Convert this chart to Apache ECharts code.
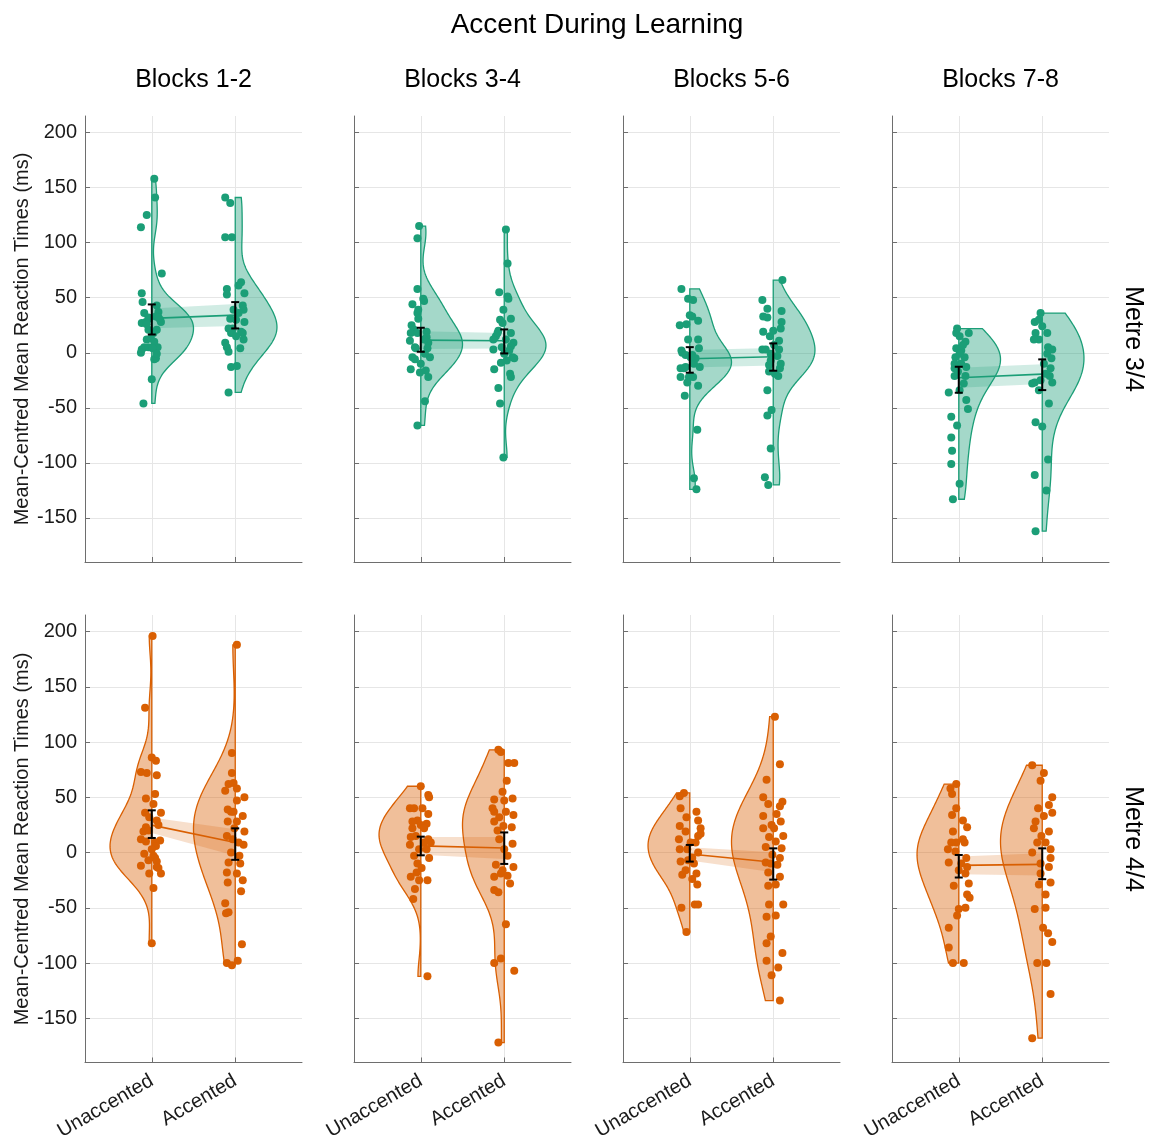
<!DOCTYPE html>
<html><head><meta charset="utf-8">
<script src="https://cdn.jsdelivr.net/npm/echarts@6/dist/echarts.min.js"></script>
<style>html,body{margin:0;padding:0;background:#fff}#c{width:1149px;height:1143px}</style>
</head><body><div id="c"></div>
<script>
// ---------------- DATA ----------------
const chartTitle = 'Accent During Learning';
const blocks = ['Blocks 1-2', 'Blocks 3-4', 'Blocks 5-6', 'Blocks 7-8'];
const conditions = ['Unaccented', 'Accented'];
const metres = ['Metre 3/4', 'Metre 4/4'];
const yLabel = 'Mean-Centred Mean Reaction Times (ms)';
const yTicks = [-150, -100, -50, 0, 50, 100, 150, 200];

// individual points: [jitter (category units), value in ms]
const m34b12U = [[0.03,158],[0.04,141],[-0.06,125],[-0.13,114],[0.12,72],[-0.12,54],[-0.11,46],[0.06,43],[-0.09,36],[-0.04,32],[0.08,37],[0.10,30],[0.11,28],[-0.12,27],[-0.07,28],[-0.03,31],[0.05,33],[0.08,32],[-0.04,21],[0.06,21],[-0.06,12],[-0.01,13],[-0.12,3],[-0.09,5],[-0.04,5],[0.07,5],[-0.13,0],[0.05,-5],[0.03,-6],[0.00,-24],[-0.10,-46],[-0.06,26],[0.02,18],[0.03,10],[0.01,4],[0.06,-1]];
const m34b12A = [[-0.12,141],[-0.06,136],[-0.12,105],[-0.04,105],[-0.10,58],[-0.10,53],[0.07,64],[0.04,61],[0.11,54],[0.09,43],[0.10,39],[-0.02,39],[-0.06,31],[0.01,30],[0.11,28],[-0.08,22],[-0.03,22],[0.07,19],[0.09,18],[-0.05,18],[0.01,15],[0.10,12],[-0.12,9],[-0.10,5],[-0.08,1],[0.06,4],[-0.05,-13],[0.02,-12],[-0.08,-36],[0.04,36]];
const m34b34U = [[-0.02,115],[-0.04,104],[-0.04,58],[0.03,49],[0.04,47],[-0.10,44],[-0.03,39],[-0.04,36],[-0.03,31],[-0.11,25],[-0.08,21],[0.07,19],[0.07,14],[-0.13,11],[0.09,9],[0.08,4],[-0.07,5],[-0.10,-4],[0.11,-4],[-0.07,-6],[-0.12,-15],[-0.01,-18],[0.06,-16],[0.09,-22],[0.05,-44],[-0.04,-66],[-0.12,18],[-0.04,18],[0.04,12],[-0.06,4],[0.00,-10],[0.05,-1]];
const m34b34A = [[0.02,112],[0.04,81],[-0.06,55],[0.04,51],[0.05,49],[-0.01,39],[-0.05,30],[0.08,31],[-0.02,27],[-0.07,20],[0.08,18],[-0.10,15],[-0.13,12],[0.11,9],[0.08,6],[-0.03,5],[-0.13,3],[0.10,-4],[0.12,-5],[0.03,-7],[-0.04,-9],[-0.12,-15],[0.07,-19],[0.08,-22],[-0.07,-32],[-0.05,-46],[-0.01,-95],[-0.08,18],[0.02,12],[0.00,-1],[0.06,2]];
const m34b56U = [[-0.10,58],[-0.02,49],[0.04,48],[0.00,34],[0.03,33],[0.10,29],[-0.12,25],[-0.04,26],[-0.02,12],[0.10,12],[-0.10,2],[-0.09,0],[-0.05,-2],[0.11,4],[0.03,-2],[0.07,-5],[-0.11,-14],[-0.07,-14],[0.05,-10],[0.12,-13],[-0.11,-22],[-0.01,-22],[0.04,-22],[-0.03,-27],[0.10,-30],[-0.06,-39],[0.09,-70],[0.05,-114],[0.08,-124],[0.01,-4],[-0.05,-13]];
const m34b56A = [[0.11,66],[-0.13,48],[-0.07,40],[-0.12,33],[-0.07,32],[0.10,38],[0.10,28],[0.09,22],[-0.12,19],[-0.04,15],[0.00,20],[0.07,11],[-0.13,3],[-0.09,3],[0.05,-3],[-0.03,-1],[0.07,3],[-0.05,-11],[0.08,-14],[-0.05,-17],[0.02,-19],[0.06,-21],[-0.07,-34],[-0.02,-52],[-0.07,-57],[-0.03,-87],[-0.10,-113],[-0.06,-120],[0.01,7],[-0.03,-7],[0.09,-10]];
const m34b78U = [[-0.02,22],[0.12,18],[0.01,15],[0.08,10],[-0.03,4],[0.07,-4],[-0.04,-4],[0.03,2],[-0.05,-14],[0.09,-13],[0.08,-21],[-0.05,-21],[-0.12,-36],[0.09,-43],[0.11,-51],[-0.09,-58],[-0.02,-66],[-0.09,-77],[-0.08,-89],[-0.09,-101],[0.01,-119],[-0.07,-133],[0.01,-1],[0.05,7],[-0.05,-10],[0.06,-28],[0.01,-34],[-0.01,-17],[-0.03,18],[0.03,-10]];
const m34b78A = [[-0.02,36],[-0.09,28],[0.06,18],[-0.08,18],[-0.04,12],[0.07,5],[0.12,3],[0.11,-5],[0.10,-14],[0.09,-21],[0.12,-27],[-0.12,-28],[-0.09,-27],[-0.04,-34],[0.08,-46],[-0.08,-63],[0.00,-67],[0.07,-97],[-0.09,-111],[0.05,-125],[-0.08,-162],[-0.10,12],[0.00,24],[0.06,-1],[0.02,-10],[0.04,-19],[-0.02,-25],[-0.04,30]];
const m44b12U = [[0.01,196],[-0.08,131],[0.00,86],[0.05,83],[-0.13,73],[-0.06,72],[0.06,70],[-0.07,49],[0.04,53],[0.02,44],[-0.08,36],[0.11,36],[0.06,29],[0.08,25],[-0.07,23],[-0.10,19],[-0.04,20],[-0.13,12],[-0.07,10],[0.10,11],[0.04,9],[-0.09,-1],[0.02,-3],[0.04,-5],[-0.04,-7],[-0.13,-12],[0.06,-8],[0.08,-14],[-0.03,-19],[0.11,-19],[0.02,-32],[0.00,-82],[-0.03,32],[0.05,6],[0.00,3],[0.06,-13]];
const m44b12A = [[0.02,188],[-0.04,90],[-0.04,72],[-0.08,62],[-0.02,63],[0.02,58],[-0.12,56],[0.11,50],[0.02,47],[-0.09,39],[-0.05,37],[-0.02,37],[0.09,33],[-0.09,28],[0.02,28],[0.11,19],[-0.10,15],[-0.03,12],[0.10,7],[-0.05,0],[0.05,-3],[-0.08,-9],[0.06,-10],[-0.10,-18],[0.02,-19],[0.09,-25],[-0.09,-27],[0.07,-35],[-0.12,-46],[-0.08,-54],[-0.11,-55],[0.08,-83],[-0.10,-100],[-0.04,-102],[0.03,-98],[-0.01,22],[0.04,9]];
const m44b34U = [[0.00,60],[0.09,52],[0.10,50],[-0.13,40],[-0.08,40],[0.09,35],[-0.04,29],[0.07,26],[-0.10,22],[-0.12,14],[0.09,12],[0.04,9],[-0.13,7],[0.07,3],[-0.08,-3],[-0.04,-10],[0.10,-5],[0.01,-14],[-0.12,-22],[-0.02,-25],[0.08,-25],[-0.07,-33],[-0.09,-42],[0.08,-112],[0.00,25],[-0.06,15],[0.04,22],[-0.02,3],[0.12,9],[-0.05,-18],[-0.10,28],[0.02,40]];
const m44b34A = [[-0.07,93],[-0.04,91],[0.05,81],[0.12,81],[0.03,65],[-0.02,55],[0.10,49],[0.00,47],[-0.12,48],[-0.12,37],[0.02,37],[-0.06,32],[0.11,34],[-0.01,24],[0.09,23],[-0.08,20],[-0.12,28],[0.10,8],[0.00,3],[-0.10,-11],[0.11,-13],[-0.04,-19],[0.04,-21],[-0.12,-22],[0.07,-28],[-0.12,-34],[-0.07,-36],[0.02,-65],[-0.12,-100],[-0.04,-96],[0.12,-107],[-0.07,-172],[-0.06,12],[0.04,-3],[-0.02,-16],[-0.14,40]];
const m44b56U = [[-0.07,54],[-0.12,51],[-0.11,40],[0.08,37],[-0.04,32],[0.10,29],[-0.12,24],[0.13,22],[-0.05,19],[0.07,9],[-0.12,3],[-0.03,3],[0.10,0],[-0.11,-8],[0.05,-10],[-0.09,-20],[0.03,-24],[0.09,-29],[-0.10,-50],[0.06,-47],[0.10,-47],[-0.04,-72],[0.10,15],[0.03,-5],[-0.05,-16],[0.01,9],[0.13,17],[-0.13,12],[-0.02,-7],[0.08,-19]];
const m44b56A = [[0.02,123],[0.08,80],[-0.08,66],[-0.12,50],[-0.06,44],[0.11,46],[0.08,42],[-0.12,33],[0.04,35],[-0.02,25],[0.09,28],[-0.12,22],[-0.05,14],[0.12,15],[0.03,10],[-0.09,5],[0.10,4],[-0.01,-2],[0.08,-5],[-0.09,-9],[0.05,-11],[-0.06,-18],[0.08,-22],[-0.06,-30],[0.03,-29],[-0.05,-47],[0.12,-47],[-0.08,-58],[0.03,-57],[-0.03,-76],[-0.08,-82],[0.11,-91],[-0.08,-98],[0.06,-104],[-0.02,-111],[0.08,-134],[0.01,22],[-0.03,-10]];
const m44b78U = [[-0.03,62],[-0.10,58],[-0.08,53],[-0.03,40],[-0.08,34],[0.05,29],[0.10,23],[-0.07,19],[0.05,12],[-0.13,3],[-0.04,1],[0.09,-5],[-0.12,-9],[0.10,-13],[0.00,-16],[0.12,-28],[-0.06,-30],[0.10,-38],[0.13,-41],[0.00,-51],[0.08,-50],[-0.02,-57],[-0.12,-68],[-0.12,-86],[-0.07,-100],[0.06,-100],[-0.03,9],[0.03,-10],[0.07,9],[-0.09,9],[0.08,-19]];
const m44b78A = [[-0.12,79],[0.02,72],[-0.02,65],[0.12,50],[0.08,43],[-0.05,40],[0.12,36],[0.02,33],[-0.10,22],[0.08,19],[-0.01,15],[0.10,3],[-0.12,0],[-0.02,-10],[0.08,-13],[-0.04,-29],[0.10,-27],[0.04,-38],[-0.09,-51],[0.04,-50],[0.01,-68],[0.07,-73],[0.12,-81],[-0.06,-100],[0.05,-100],[0.10,-128],[-0.12,-168],[-0.08,28],[0.04,9],[-0.02,-19],[0.10,-5],[-0.06,9]];

// group means, 95% CI bounds (error bars), half-width of the connecting ribbon; [Unaccented, Accented] per block
const m34Mean = [[31.2,34.2],[11.5,10.9],[-5.4,-3.6],[-22.7,-19.4]];
const m34CiLo = [[16.6,22.1],[0.9,-0.6],[-18.1,-16.3],[-36.3,-33.9]];
const m34CiHi = [[43.9,46.0],[22.7,21.2],[5.1,8.5],[-12.7,-6.0]];
const m34Band = [[9,10],[8,7],[8,8],[9,9]];
const m44Mean = [[24.8,9.1],[6.0,4.1],[-1.3,-8.8],[-11.6,-10.7]];
const m44CiLo = [[13.2,-6.6],[-2.5,-10.3],[-8.2,-24.5],[-22.6,-24.1]];
const m44CiHi = [[38.2,21.9],[14.4,18.2],[6.9,3.8],[-2.2,3.8]];
const m44Band = [[7,12],[8,10],[6,9],[8,10]];

// ---------------- BUILD ----------------
const panels = [
  [[m34b12U, m34b12A], [m34b34U, m34b34A], [m34b56U, m34b56A], [m34b78U, m34b78A]],
  [[m44b12U, m44b12A], [m44b34U, m44b34A], [m44b56U, m44b56A], [m44b78U, m44b78A]]
];
const means = [m34Mean, m44Mean], ciLo = [m34CiLo, m44CiLo], ciHi = [m34CiHi, m44CiHi], bands = [m34Band, m44Band];

const FONT = '"Liberation Sans", Helvetica, Arial, sans-serif';
const colors = ['#1b9e77', '#d95f02'];
const fills = ['rgba(27,158,119,0.4)', 'rgba(217,95,2,0.4)'];
const bandFills = ['rgba(27,158,119,0.2)', 'rgba(217,95,2,0.2)'];
const axisCol = '#6e6e6e', gridCol = '#e6e6e6', textCol = '#1a1a1a';
const gridLeft = [85, 354, 623, 892], gridW = 217;
const gridTop = [116, 615], gridH = [446, 448];

function median(a) { const s = a.slice().sort((x, y) => x - y); const n = s.length; return n % 2 ? s[(n - 1) / 2] : (s[n / 2 - 1] + s[n / 2]) / 2; }
// half violin outline from a Gaussian kernel density estimate of the values
function halfViolin(vals, xc, side) {
  const n = vals.length, med = median(vals);
  let sig = median(vals.map(v => Math.abs(v - med))) / 0.6745;
  if (!(sig > 0)) { const m = vals.reduce((a, b) => a + b, 0) / n; sig = Math.sqrt(vals.reduce((a, b) => a + (b - m) ** 2, 0) / (n - 1)); }
  const h = sig * Math.pow(4 / (3 * n), 0.2);
  const lo = Math.min(...vals), hi = Math.max(...vals);
  const steps = 150, ys = [], ds = [];
  for (let i = 0; i <= steps; i++) {
    const y = lo + (hi - lo) * i / steps; let d = 0;
    for (const v of vals) { const u = (y - v) / h; d += Math.exp(-0.5 * u * u); }
    ys.push(y); ds.push(d);
  }
  const dmax = Math.max(...ds);
  const pts = [[xc, lo]];
  for (let i = 0; i <= steps; i++) pts.push([xc + side * 0.5 * ds[i] / dmax, ys[i]]);
  pts.push([xc, hi]);
  return pts;
}

const grids = [], xAxes = [], yAxes = [], series = [];
for (let r = 0; r < 2; r++) {
  for (let c = 0; c < 4; c++) {
    const gi = r * 4 + c;
    grids.push({ left: gridLeft[c], top: gridTop[r], width: gridW, height: gridH[r] });
    xAxes.push({
      gridIndex: gi, type: 'value', min: 0.2, max: 2.8,
      axisLine: { show: true, onZero: false, lineStyle: { color: axisCol, width: 1 } },
      axisTick: { show: true, inside: true, length: 5, customValues: [1, 2], lineStyle: { color: axisCol } },
      axisLabel: { show: r === 1, customValues: [1, 2], formatter: v => conditions[Math.round(v) - 1], rotate: 30, fontSize: 20, fontFamily: FONT, color: textCol, margin: 17 },
      splitLine: { show: true, lineStyle: { color: gridCol, width: 1 } }
    });
    yAxes.push({
      gridIndex: gi, type: 'value', min: -190, max: 215,
      axisLine: { show: true, onZero: false, lineStyle: { color: axisCol, width: 1 } },
      axisTick: { show: true, inside: true, length: 5, customValues: yTicks, lineStyle: { color: axisCol } },
      axisLabel: { show: c === 0, customValues: yTicks, fontSize: 20, fontFamily: FONT, color: textCol, margin: 8 },
      splitLine: { show: true, lineStyle: { color: gridCol, width: 1 } }
    });
    const grp = panels[r][c];
    const mean = means[r][c], lo = ciLo[r][c], hi = ciHi[r][c], band = bands[r][c];
    const side = r === 0 ? 1 : -1;
    const violins = grp.map((pts, k) => halfViolin(pts.map(p => p[1]), k + 1, side));
    series.push({
      type: 'custom', xAxisIndex: gi, yAxisIndex: gi, z: 2, silent: true,
      data: [[1, mean[0]], [2, mean[1]]], encode: { x: 0, y: 1 },
      renderItem: (params, api) => ({
        type: 'polygon', shape: { points: violins[params.dataIndex].map(p => api.coord(p)) },
        style: { fill: fills[r], stroke: colors[r], lineWidth: 1.3 }
      })
    });
    series.push({
      type: 'custom', xAxisIndex: gi, yAxisIndex: gi, z: 3, silent: true,
      data: [[1.5, (mean[0] + mean[1]) / 2]], encode: { x: 0, y: 1 },
      renderItem: (params, api) => ({
        type: 'polygon',
        shape: { points: [api.coord([1, mean[0] + band[0]]), api.coord([2, mean[1] + band[1]]), api.coord([2, mean[1] - band[1]]), api.coord([1, mean[0] - band[0]])] },
        style: { fill: bandFills[r] }
      })
    });
    series.push({
      type: 'line', xAxisIndex: gi, yAxisIndex: gi, z: 4, silent: true, symbol: 'none',
      data: [[1, mean[0]], [2, mean[1]]], lineStyle: { color: colors[r], width: 1.6 }
    });
    series.push({
      type: 'scatter', xAxisIndex: gi, yAxisIndex: gi, z: 5, silent: true, symbolSize: 8,
      data: grp[0].map(p => [1 + p[0], p[1]]).concat(grp[1].map(p => [2 + p[0], p[1]])),
      itemStyle: { color: colors[r], opacity: 1 }
    });
    series.push({
      type: 'custom', xAxisIndex: gi, yAxisIndex: gi, z: 6, silent: true,
      data: [[1, lo[0], hi[0]], [2, lo[1], hi[1]]], encode: { x: 0, y: [1, 2] },
      renderItem: (params, api) => {
        const x = api.value(0);
        const a = api.coord([x, api.value(1)]), b = api.coord([x, api.value(2)]);
        const cw = 4, st = { stroke: '#000', lineWidth: 2 };
        return { type: 'group', children: [
          { type: 'line', shape: { x1: a[0], y1: a[1], x2: b[0], y2: b[1] }, style: st },
          { type: 'line', shape: { x1: a[0] - cw, y1: a[1], x2: a[0] + cw, y2: a[1] }, style: st },
          { type: 'line', shape: { x1: b[0] - cw, y1: b[1], x2: b[0] + cw, y2: b[1] }, style: st }
        ] };
      }
    });
  }
}

const graphics = [
  { type: 'text', x: 597, y: 25, style: { text: chartTitle, fontSize: 28, fontFamily: FONT, fill: '#000', align: 'center', verticalAlign: 'middle' } }
];
blocks.forEach((b, c) => graphics.push({ type: 'text', x: gridLeft[c] + gridW / 2, y: 80, style: { text: b, fontSize: 25, fontFamily: FONT, fill: '#000', align: 'center', verticalAlign: 'middle' } }));
metres.forEach((m, r) => {
  const cy = gridTop[r] + gridH[r] / 2;
  graphics.push({ type: 'text', x: 1133, y: cy, rotation: -Math.PI / 2, style: { text: m, fontSize: 25, fontFamily: FONT, fill: '#000', align: 'center', verticalAlign: 'middle' } });
  graphics.push({ type: 'text', x: 22, y: cy, rotation: Math.PI / 2, style: { text: yLabel, fontSize: 20, fontFamily: FONT, fill: textCol, align: 'center', verticalAlign: 'middle' } });
});

const chart = echarts.init(document.getElementById('c'), null, { renderer: 'canvas' });
chart.setOption({
  backgroundColor: '#fff', animation: false,
  grid: grids, xAxis: xAxes, yAxis: yAxes, series: series, graphic: graphics
});
</script></body></html>
